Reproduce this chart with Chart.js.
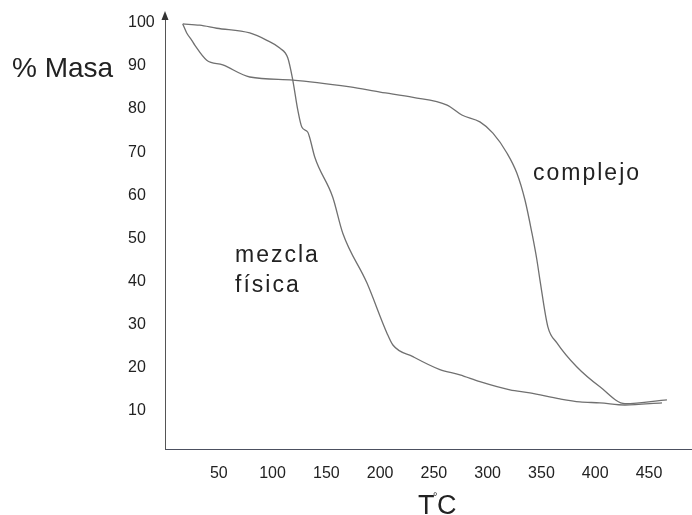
<!DOCTYPE html>
<html>
<head>
<meta charset="utf-8">
<script src="https://cdn.jsdelivr.net/npm/chart.js@4.4.1/dist/chart.umd.min.js"></script>
<style>
  html, body { margin: 0; padding: 0; background: #fff; }
  #wrap { position: relative; width: 692px; height: 515px; }
</style>
</head>
<body>
<div id="wrap"><canvas id="tga"></canvas></div>
<script>
// Termogravimetría: temperatura (°C) frente a % de masa
const mezclaT = [16.5, 32.3, 48.1, 78.8, 94.7, 106.7, 114.2, 118.8, 123.5, 127.2, 132.8, 134.7, 139.3, 155.9, 165.3, 187.7, 206.3, 211.9, 230.5, 255.6, 274.2, 292.8, 320.7, 339.3, 367.2, 385.8, 404.4, 427.7, 462.1];
const mezclaMasa = [99.7, 99.4, 98.7, 97.6, 95.9, 94.1, 91.8, 86.7, 79.7, 75.8, 74.6, 73.2, 68.8, 59.6, 51.2, 39.7, 28.1, 25.3, 22.6, 19.6, 18.4, 16.8, 14.9, 14.2, 12.8, 12.1, 11.9, 11.4, 11.9];

const complejoT = [16.5, 20.2, 24.9, 27.7, 38.8, 53.7, 78.8, 118.8, 172.1, 200.0, 230.7, 262.3, 276.0, 292.8, 304.9, 317.9, 327.2, 334.7, 341.2, 345.8, 348.6, 356.0, 364.4, 383.0, 404.4, 427.7, 466.7];
const complejoMasa = [99.7, 97.6, 95.9, 94.8, 91.3, 90.2, 87.4, 86.7, 85.1, 83.9, 82.7, 80.9, 78.6, 77.0, 74.4, 69.8, 65.1, 58.9, 51.2, 45.0, 40.4, 29.5, 25.8, 20.2, 15.6, 11.7, 12.6];

const xTicks = [50, 100, 150, 200, 250, 300, 350, 400, 450];
const yTicks = [10, 20, 30, 40, 50, 60, 70, 80, 90, 100];

const toPoints = (xs, ys) => xs.map((x, i) => ({ x: x, y: ys[i] }));

const FONT = '"Liberation Sans", Arial, sans-serif';
const LINE = '#707070';

// rótulos, flecha del eje y textos sueltos
const labelsPlugin = {
    id: 'labels',
    afterDraw(chart) {
        const ctx = chart.ctx;
        const area = chart.chartArea;
        ctx.save();

        // flecha del eje vertical
        ctx.fillStyle = '#333';
        ctx.beginPath();
        ctx.moveTo(area.left, area.top - 3);
        ctx.lineTo(area.left - 3.5, area.top + 6);
        ctx.lineTo(area.left + 3.5, area.top + 6);
        ctx.closePath();
        ctx.fill();

        ctx.fillStyle = '#222';
        ctx.textBaseline = 'alphabetic';
        ctx.textAlign = 'left';

        ctx.font = '28px ' + FONT;
        ctx.fillText('% Masa', 12, 77);

        ctx.font = '27px ' + FONT;
        ctx.fillText('T', 418, 514);
        ctx.fillText('C', 437, 514);
        ctx.font = '11px ' + FONT;
        ctx.fillText('°', 433, 500);

        ctx.font = '23px ' + FONT;
        ctx.letterSpacing = '2px';
        ctx.fillText('complejo', 533, 180);
        ctx.fillText('mezcla', 235, 262);
        ctx.fillText('física', 235, 292);

        ctx.restore();
    }
};

new Chart(document.getElementById('tga'), {
    type: 'scatter',
    data: {
        datasets: [
            {
                label: 'mezcla física',
                data: toPoints(mezclaT, mezclaMasa),
                showLine: true,
                borderColor: LINE,
                borderWidth: 1.3,
                pointRadius: 0,
                cubicInterpolationMode: 'monotone',
                clip: false
            },
            {
                label: 'complejo',
                data: toPoints(complejoT, complejoMasa),
                showLine: true,
                borderColor: LINE,
                borderWidth: 1.3,
                pointRadius: 0,
                cubicInterpolationMode: 'monotone',
                clip: false
            }
        ]
    },
    options: {
        responsive: true,
        maintainAspectRatio: false,
        animation: false,
        events: [],
        layout: { padding: { left: 128, top: 14, right: 0, bottom: 0 } },
        plugins: {
            legend: { display: false },
            tooltip: { enabled: false }
        },
        scales: {
            x: {
                type: 'linear',
                min: 0,
                max: 490,
                afterBuildTicks: (scale) => { scale.ticks = xTicks.map(v => ({ value: v })); },
                afterFit: (scale) => { scale.height = 66; },
                grid: { display: false, drawTicks: false },
                border: { display: true, color: '#4c5060', width: 1 },
                ticks: {
                    padding: 15,
                    color: '#222',
                    font: { family: FONT, size: 16 },
                    maxRotation: 0
                }
            },
            y: {
                type: 'linear',
                min: 1.2,
                max: 102,
                afterBuildTicks: (scale) => { scale.ticks = yTicks.map(v => ({ value: v })); },
                afterFit: (scale) => { scale.width = 37; },
                grid: { display: false, drawTicks: false },
                border: { display: true, color: '#555', width: 1 },
                ticks: {
                    crossAlign: 'far',
                    color: '#222',
                    font: { family: FONT, size: 16 }
                }
            }
        }
    },
    plugins: [labelsPlugin]
});
</script>
</body>
</html>
